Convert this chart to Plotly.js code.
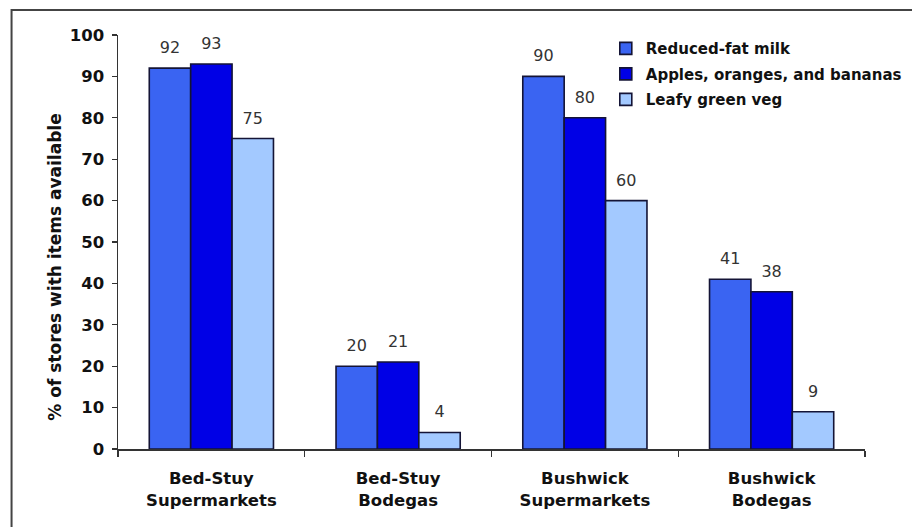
<!DOCTYPE html>
<html>
<head>
<meta charset="utf-8">
<script src="https://cdn.plot.ly/plotly-3.0.1.min.js"></script>
<style>
  html, body { margin: 0; padding: 0; background: #ffffff; }
  #chart { width: 912px; height: 527px; }
</style>
</head>
<body>
<div id="chart"></div>
<script>
// ---- Data ----
var categories = [
  "Bed-Stuy<br>Supermarkets",
  "Bed-Stuy<br>Bodegas",
  "Bushwick<br>Supermarkets",
  "Bushwick<br>Bodegas"
];
var seriesNames = ["Reduced-fat milk", "Apples, oranges, and bananas", "Leafy green veg"];
var milkValues   = [92, 20, 90, 41];
var fruitValues  = [93, 21, 80, 38];
var leafyValues  = [75, 4, 60, 9];
var yTickValues  = [0, 10, 20, 30, 40, 50, 60, 70, 80, 90, 100];
var yAxisTitle   = "% of stores with items available";

// ---- Styling ----
var seriesColors = ["#3a64f2", "#0000e6", "#a3c9ff"];
var outline = "#141436";
var allValues = [milkValues, fruitValues, leafyValues];
var GAP = 0.335;

var traces = [];
allValues.forEach(function (vals, i) {
  traces.push({
    type: "bar",
    name: seriesNames[i],
    x: categories,
    y: vals,
    offsetgroup: "g" + i,
    legendgroup: "lg" + i,
    marker: { color: seriesColors[i], line: { color: outline, width: 1.6 } },
    hoverinfo: "skip"
  });
});
allValues.forEach(function (vals, i) {
  traces.push({
    type: "scatter",
    mode: "markers+text",
    x: categories,
    y: vals,
    offsetgroup: "g" + i,
    text: vals.map(String),
    textposition: "top center",
    textfont: { family: "DejaVu Sans, Verdana, sans-serif", size: 16, color: "#333333" },
    marker: { size: 16, color: "rgba(0,0,0,0)" },
    showlegend: false,
    cliponaxis: false,
    hoverinfo: "skip"
  });
});

var boldFont = "DejaVu Sans, Verdana, sans-serif";

var layout = {
  width: 912,
  height: 527,
  margin: { l: 118, r: 47, t: 35, b: 78, autoexpand: false },
  paper_bgcolor: "#ffffff",
  plot_bgcolor: "#ffffff",
  barmode: "group",
  bargap: GAP,
  bargroupgap: 0,
  scattermode: "group",
  scattergap: GAP,
  showlegend: true,
  legend: {
    x: 0.653, xanchor: "left",
    y: 1.007, yanchor: "top",
    bgcolor: "rgba(0,0,0,0)",
    tracegroupgap: 3,
    itemwidth: 30,
    font: { family: boldFont, size: 15, color: "#111111", weight: "bold" }
  },
  xaxis: {
    type: "category",
    range: [-0.5, categories.length - 0.5],
    automargin: false,
    showline: true,
    linecolor: "#333333",
    linewidth: 1.5,
    ticks: "outside",
    tickson: "boundaries",
    ticklen: 6,
    tickcolor: "#333333",
    tickwidth: 1.3,
    ticklabelstandoff: 14,
    showgrid: false,
    zeroline: false,
    tickfont: { family: boldFont, size: 16.5, color: "#111111", weight: "bold" }
  },
  yaxis: {
    range: [0, 100],
    automargin: false,
    tickvals: yTickValues,
    ticktext: yTickValues.map(String),
    showline: true,
    linecolor: "#333333",
    linewidth: 1.5,
    ticks: "outside",
    ticklen: 5,
    tickcolor: "#333333",
    tickwidth: 1.3,
    ticklabelstandoff: 4,
    showgrid: false,
    zeroline: false,
    tickfont: { family: boldFont, size: 16.5, color: "#111111", weight: "bold" }
  },
  annotations: [{
    text: yAxisTitle,
    xref: "paper", yref: "paper",
    x: -0.0845, y: 0.44,
    xanchor: "center", yanchor: "middle",
    textangle: -90,
    showarrow: false,
    font: { family: boldFont, size: 17, color: "#111111", weight: "bold" }
  }],
  shapes: [{
    type: "rect",
    xref: "paper", yref: "paper",
    x0: -0.1425, x1: 1.2,
    y0: -0.3, y1: 1.0604,
    line: { color: "#444444", width: 2 },
    fillcolor: "rgba(0,0,0,0)",
    layer: "below"
  }]
};

Plotly.newPlot("chart", traces, layout, { displayModeBar: false, staticPlot: true });
</script>
</body>
</html>
